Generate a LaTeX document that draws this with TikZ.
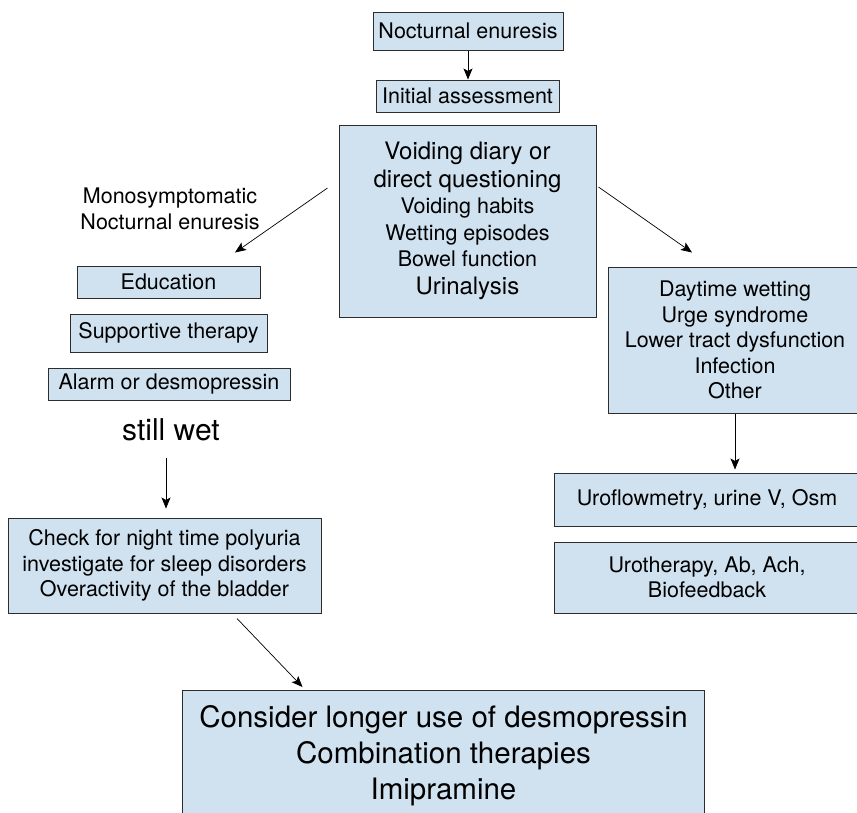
\documentclass[tikz,border=0pt]{standalone}
\usepackage{fontspec}
\setmainfont{TeX Gyre Heros}
\usetikzlibrary{arrows.meta}
\definecolor{boxfill}{RGB}{208,226,240}
\definecolor{boxline}{RGB}{45,45,45}
\newcommand{\fsNorm}{\fontsize{21.5}{25.5}\selectfont}
\newcommand{\fsBig}{\fontsize{24}{27}\selectfont}
\newcommand{\fsWet}{\fontsize{30}{36}\selectfont}
\newcommand{\fsFin}{\fontsize{29.5}{36}\selectfont}
\tikzset{
  box/.style={draw=boxline, line width=1pt, fill=boxfill, inner sep=0pt, align=center, font=\fsNorm},
  plain/.style={inner sep=0pt, align=center},
  arr/.style={draw=black, line width=0.7pt, -{Stealth[length=11pt,width=9pt,inset=2.5pt]}},
}
\begin{document}
\begin{tikzpicture}[x=1pt,y=-1pt]
\useasboundingbox (0,0) rectangle (857,812);
\clip (0,0) rectangle (857,812);
% top
\node[box, minimum width=190pt, minimum height=38pt] (ne) at (468,31) {Nocturnal enuresis};
\node[box, minimum width=183pt, minimum height=32pt] (ia) at (467.5,96) {Initial assessment};
\node[box, minimum width=257pt, minimum height=192pt] (vd) at (467.5,221)
  {\fsBig Voiding diary or\\[2pt] \fsBig direct questioning\\[1pt] Voiding habits\\[1pt] Wetting episodes\\[1pt] Bowel function\\[2pt] \fsBig Urinalysis};
% left branch
\node[plain, font=\fsNorm] (mono) at (170,209) {Monosymptomatic\\Nocturnal enuresis};
\node[box, minimum width=183pt, minimum height=32pt] (edu) at (168.5,282) {Education};
\node[box, minimum width=197pt, minimum height=38pt] (sup) at (168.5,333) {Supportive therapy};
\node[box, minimum width=242pt, minimum height=32pt] (alarm) at (169,384) {Alarm or desmopressin};
\node[plain, font=\fsWet] (sw) at (171,430) {still wet};
\node[box, minimum width=313pt, minimum height=95pt] (chk) at (164.5,565.5)
  {Check for night time polyuria\\investigate for sleep disorders\\Overactivity of the bladder};
% bottom
\node[box, anchor=north west] (fin) at (182,690)
  {\begin{minipage}[t][150pt][t]{522pt}\centering\fsFin
   \rule{0pt}{37pt}Consider longer use of desmopressin\\
   Combination therapies\\
   Imipramine\end{minipage}};
% right branch
\node[box, minimum width=254pt, minimum height=146pt] (dw) at (735,340)
  {Daytime wetting\\Urge syndrome\\Lower tract dysfunction\\Infection\\Other};
\node[box, minimum width=306pt, minimum height=53pt] (uro) at (707,499.5) {Uroflowmetry, urine V, Osm};
\node[box, minimum width=306pt, minimum height=71pt] (ut) at (707,577.5) {Urotherapy, Ab, Ach,\\Biofeedback};
% connectors
\draw[arr] (ne.south) -- (ne.south |- ia.north);
\draw[arr] ([shift={(-11,-33)}]vd.west) -- ([shift={(66.5,-13)}]edu.north);
\draw[arr] ([shift={(2,-34)}]vd.east) -- ([shift={(-43,-14)}]dw.north);
\draw[arr] ([shift={(-5,28)}]sw.center) -- ([shift={(1.5,-9)}]chk.north);
\draw[arr] ([shift={(72.5,5)}]chk.south) -- ([shift={(-141,-3)}]fin.north);
\draw[arr] (dw.south) -- ([yshift=3pt]dw.south |- uro.north);
\end{tikzpicture}
\end{document}
